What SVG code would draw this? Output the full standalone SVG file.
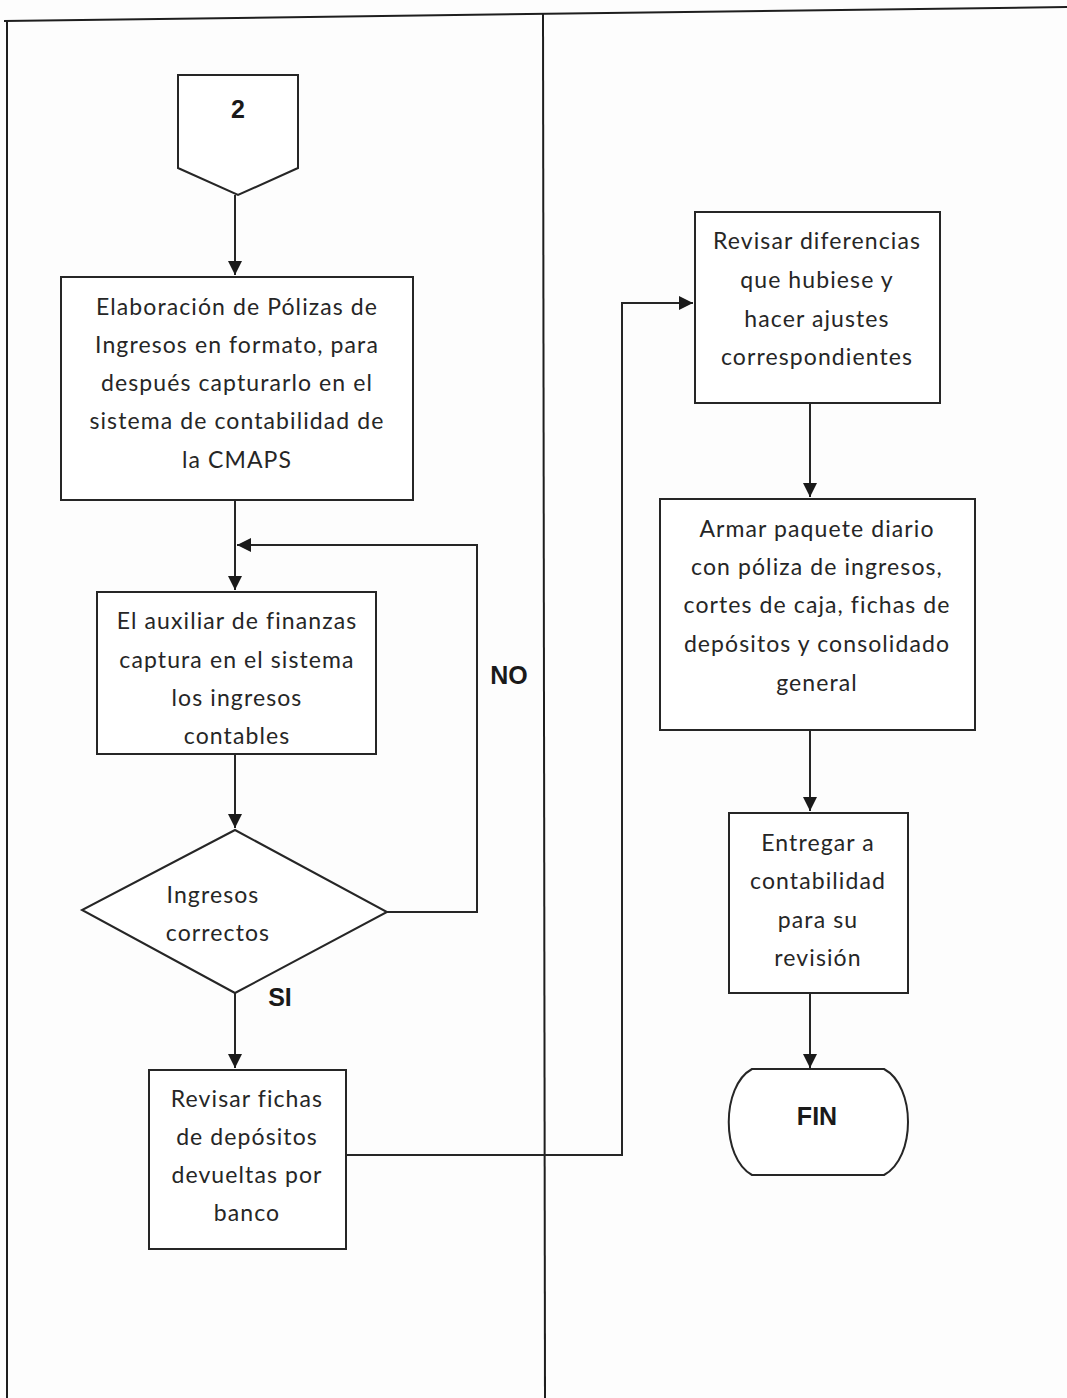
<svg xmlns="http://www.w3.org/2000/svg" width="1067" height="1398" viewBox="0 0 1067 1398">
  <style>
    .frame { fill: none; stroke: #1e1e1e; stroke-width: 2; }
    .shape { fill: #ffffff; stroke: #262626; stroke-width: 2; }
    .wire { fill: none; stroke: #262626; stroke-width: 2; }
    .t { font-family: Lato, "Open Sans", "Liberation Sans", sans-serif; font-size: 23px; letter-spacing: 1.1px; fill: #262626; text-anchor: middle; }
    .b { font-family: "Liberation Sans", Arial, sans-serif; font-size: 25px; font-weight: bold; fill: #1a1a1a; text-anchor: middle; }
  </style>
  <defs>
    <marker id="arrow" viewBox="0 0 10 10" refX="10" refY="5" markerWidth="14" markerHeight="14" markerUnits="userSpaceOnUse" orient="auto">
      <path d="M0,0 L10,5 L0,10 Z" fill="#1a1a1a"/>
    </marker>
  </defs>
  <rect width="1067" height="1398" fill="#fdfdfd"/>

  <!-- swimlane frame -->
  <g id="frame">
    <path class="frame" d="M4,21 L1067,7"/>
    <path class="frame" d="M7,21 L7,1398"/>
    <path class="frame" d="M543,14 L545,1398"/>
  </g>

  <!-- connectors -->
  <g id="connectors">
    <path class="wire" d="M235,195 L235,275" marker-end="url(#arrow)"/>
    <path class="wire" d="M235,500 L235,590" marker-end="url(#arrow)"/>
    <path class="wire" d="M387,912 L477,912 L477,545 L237,545" marker-end="url(#arrow)"/>
    <path class="wire" d="M235,754 L235,828" marker-end="url(#arrow)"/>
    <path class="wire" d="M235,993 L235,1068" marker-end="url(#arrow)"/>
    <path class="wire" d="M346,1155 L622,1155 L622,303 L693,303" marker-end="url(#arrow)"/>
    <path class="wire" d="M810,403 L810,497" marker-end="url(#arrow)"/>
    <path class="wire" d="M810,730 L810,811" marker-end="url(#arrow)"/>
    <path class="wire" d="M810,993 L810,1068" marker-end="url(#arrow)"/>
    <text class="b" x="509" y="684">NO</text>
    <text class="b" x="280" y="1006">SI</text>
  </g>

  <g id="offpage-2">
    <path class="shape" d="M178,75 L298,75 L298,168 L238,195 L178,168 Z"/>
    <text class="b" x="238" y="118">2</text>
  </g>

  <g id="polizas">
    <rect class="shape" x="61" y="277" width="352" height="223"/>
    <text class="t" x="237" y="315">Elaboración de Pólizas de</text>
    <text class="t" x="237" y="353">Ingresos en formato, para</text>
    <text class="t" x="237" y="391">después capturarlo en el</text>
    <text class="t" x="237" y="429">sistema de contabilidad de</text>
    <text class="t" x="237" y="468">la CMAPS</text>
  </g>

  <g id="captura">
    <rect class="shape" x="97" y="592" width="279" height="162"/>
    <text class="t" x="237" y="629">El auxiliar de finanzas</text>
    <text class="t" x="237" y="668">captura en el sistema</text>
    <text class="t" x="237" y="706">los ingresos</text>
    <text class="t" x="237" y="744">contables</text>
  </g>

  <g id="decision">
    <path class="shape" d="M235,830 L387,912 L235,993 L82,910 Z"/>
    <text class="t" x="213" y="903">Ingresos</text>
    <text class="t" x="218" y="941">correctos</text>
  </g>

  <g id="fichas">
    <rect class="shape" x="149" y="1070" width="197" height="179"/>
    <text class="t" x="247" y="1107">Revisar fichas</text>
    <text class="t" x="247" y="1145">de depósitos</text>
    <text class="t" x="247" y="1183">devueltas por</text>
    <text class="t" x="247" y="1221">banco</text>
  </g>

  <g id="diferencias">
    <rect class="shape" x="695" y="212" width="245" height="191"/>
    <text class="t" x="817" y="249">Revisar diferencias</text>
    <text class="t" x="817" y="288">que hubiese y</text>
    <text class="t" x="817" y="327">hacer ajustes</text>
    <text class="t" x="817" y="365">correspondientes</text>
  </g>

  <g id="paquete">
    <rect class="shape" x="660" y="499" width="315" height="231"/>
    <text class="t" x="817" y="537">Armar paquete diario</text>
    <text class="t" x="817" y="575">con póliza de ingresos,</text>
    <text class="t" x="817" y="613">cortes de caja, fichas de</text>
    <text class="t" x="817" y="652">depósitos y consolidado</text>
    <text class="t" x="817" y="691">general</text>
  </g>

  <g id="entregar">
    <rect class="shape" x="729" y="813" width="179" height="180"/>
    <text class="t" x="818" y="851">Entregar a</text>
    <text class="t" x="818" y="889">contabilidad</text>
    <text class="t" x="818" y="928">para su</text>
    <text class="t" x="818" y="966">revisión</text>
  </g>

  <g id="fin">
    <path class="shape" d="M752,1069 L884,1069 C916,1086 916,1158 884,1175 L752,1175 C721,1158 721,1086 752,1069 Z"/>
    <text class="b" x="817" y="1125">FIN</text>
  </g>
</svg>
